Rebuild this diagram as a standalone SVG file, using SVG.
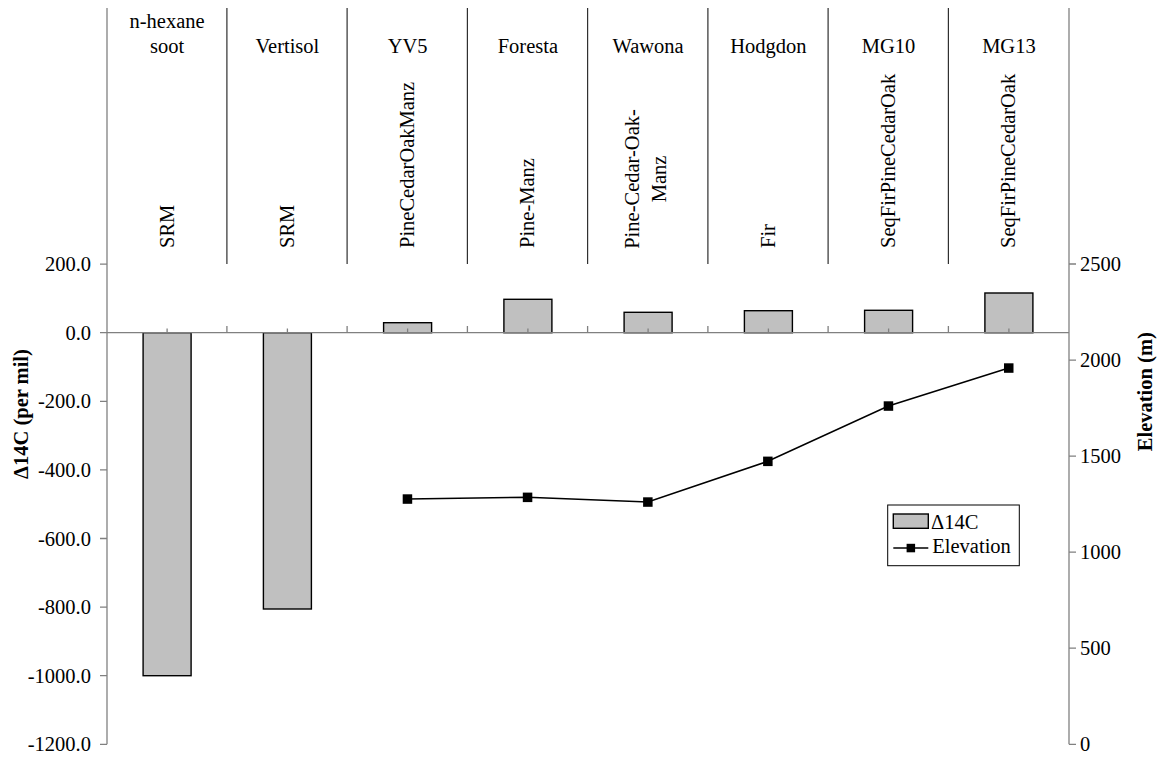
<svg xmlns="http://www.w3.org/2000/svg" width="1162" height="759" viewBox="0 0 1162 759">
<style>
text{font-family:"Liberation Serif","Times New Roman",serif;font-size:20.5px;fill:#000}
.b{font-weight:bold}
.m{text-anchor:middle}
.e{text-anchor:end}
.ax{stroke:#808080;stroke-width:1.3;fill:none}
.sep{stroke:#303030;stroke-width:1.2;fill:none}
.bar{fill:#C0C0C0;stroke:#000;stroke-width:1.4}
.ln{stroke:#000;stroke-width:1.5;fill:none}
.mk{fill:#000}
</style>
<rect width="1162" height="759" fill="#fff"/>

<g id="bars">
<rect class="bar" x="143.1" y="332.7" width="48" height="343"/>
<rect class="bar" x="263.4" y="332.7" width="48" height="276.3"/>
<rect class="bar" x="383.6" y="322.7" width="48" height="10"/>
<rect class="bar" x="503.9" y="299.3" width="48" height="33.4"/>
<rect class="bar" x="624.1" y="312.3" width="48" height="20.4"/>
<rect class="bar" x="744.4" y="310.7" width="48" height="22"/>
<rect class="bar" x="864.6" y="310.3" width="48" height="22.4"/>
<rect class="bar" x="984.9" y="293" width="48" height="39.7"/>
</g>

<g id="axes">
<line class="ax" x1="107" y1="8" x2="107" y2="744.3"/>
<line class="ax" x1="1069" y1="8" x2="1069" y2="744.3"/>
<line class="ax" x1="107" y1="332.7" x2="1069" y2="332.7"/>
<path class="ax" d="M100 264.1H107M100 332.7H107M100 401.3H107M100 469.9H107M100 538.5H107M100 607.1H107M100 675.7H107M100 744.3H107"/>
<path class="ax" d="M1069 264H1076M1069 360.1H1076M1069 456.1H1076M1069 552.2H1076M1069 648.2H1076M1069 744.3H1076"/>
<path class="ax" d="M226.9 326V332.7M347.1 326V332.7M467.4 326V332.7M587.6 326V332.7M707.9 326V332.7M828.1 326V332.7M948.4 326V332.7"/>
<path class="ax" d="M167.1 328.5V332.7M287.4 328.5V332.7M407.6 328.5V332.7M527.9 328.5V332.7M648.1 328.5V332.7M768.4 328.5V332.7M888.6 328.5V332.7M1008.9 328.5V332.7"/>
<g class="e">
<text x="91" y="271.1">200.0</text>
<text x="91" y="339.7">0.0</text>
<text x="91" y="408.3">-200.0</text>
<text x="91" y="476.9">-400.0</text>
<text x="91" y="545.5">-600.0</text>
<text x="91" y="614.1">-800.0</text>
<text x="91" y="682.7">-1000.0</text>
<text x="91" y="751.3">-1200.0</text>
</g>
<text x="1080" y="271">2500</text>
<text x="1080" y="367.1">2000</text>
<text x="1080" y="463.1">1500</text>
<text x="1080" y="559.2">1000</text>
<text x="1080" y="655.2">500</text>
<text x="1080" y="751.3">0</text>
<text class="b m" transform="translate(27.5 414) rotate(-90)">Δ14C (per mil)</text>
<text class="b m" transform="translate(1152 391.7) rotate(-90)">Elevation (m)</text>
</g>

<g id="separators">
<path class="sep" d="M226.9 8V264M347.1 8V264M467.4 8V264M587.6 8V264M707.9 8V264M828.1 8V264M948.4 8V264"/>
</g>

<g id="cat-nhexane">
<text class="m" x="167.1" y="28.3">n-hexane</text>
<text class="m" x="167.1" y="52.7">soot</text>
<text transform="translate(174 248) rotate(-90)">SRM</text>
</g>
<g id="cat-vertisol">
<text class="m" x="287.4" y="52.7">Vertisol</text>
<text transform="translate(294 248) rotate(-90)">SRM</text>
</g>
<g id="cat-yv5">
<text class="m" x="407.6" y="52.7">YV5</text>
<text transform="translate(413.8 248) rotate(-90)">PineCedarOakManz</text>
</g>
<g id="cat-foresta">
<text class="m" x="527.9" y="52.7">Foresta</text>
<text transform="translate(534.2 248) rotate(-90)">Pine-Manz</text>
</g>
<g id="cat-wawona">
<text class="m" x="648.1" y="52.7">Wawona</text>
<text class="m" transform="translate(639 179) rotate(-90)">Pine-Cedar-Oak-</text>
<text class="m" transform="translate(665.5 179) rotate(-90)">Manz</text>
</g>
<g id="cat-hodgdon">
<text class="m" x="768.4" y="52.7">Hodgdon</text>
<text transform="translate(774.7 248) rotate(-90)">Fir</text>
</g>
<g id="cat-mg10">
<text class="m" x="888.6" y="52.7">MG10</text>
<text transform="translate(894.9 248) rotate(-90)">SeqFirPineCedarOak</text>
</g>
<g id="cat-mg13">
<text class="m" x="1008.9" y="52.7">MG13</text>
<text transform="translate(1015.2 248) rotate(-90)">SeqFirPineCedarOak</text>
</g>

<g id="connectors">
<polyline class="ln" points="407.5,499 527.5,497.3 647.8,502 767.8,461.3 888.4,406 1008.7,368"/>
<g class="mk">
<rect x="402.7" y="494.3" width="9.5" height="9.5"/>
<rect x="522.8" y="492.6" width="9.5" height="9.5"/>
<rect x="643.1" y="497.3" width="9.5" height="9.5"/>
<rect x="763.1" y="456.6" width="9.5" height="9.5"/>
<rect x="883.7" y="401.3" width="9.5" height="9.5"/>
<rect x="1004" y="363.3" width="9.5" height="9.5"/>
</g>
</g>

<g id="legend">
<rect x="887.7" y="505" width="131.6" height="60.7" fill="#fff" stroke="#000" stroke-width="1"/>
<rect class="bar" x="893.3" y="514" width="35" height="14.3" stroke-width="1.2"/>
<text x="931" y="529">Δ14C</text>
<line class="ln" x1="893.3" y1="548" x2="928.3" y2="548"/>
<rect class="mk" x="906.6" y="543.8" width="8.5" height="8.5"/>
<text x="932.3" y="553.3">Elevation</text>
</g>
</svg>
